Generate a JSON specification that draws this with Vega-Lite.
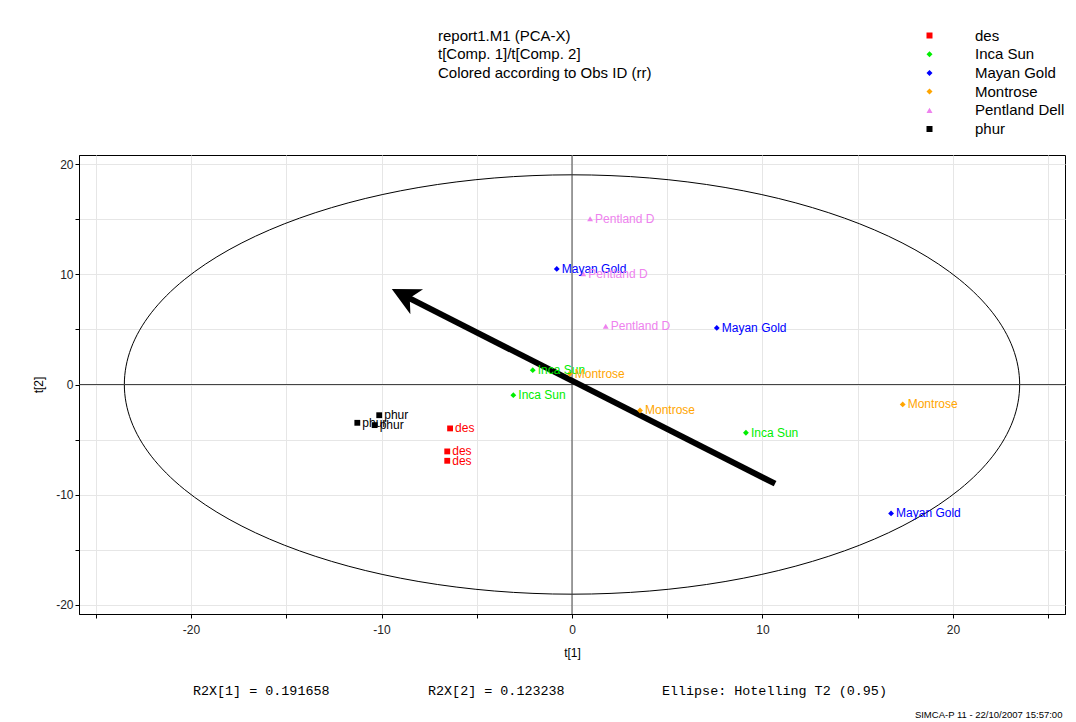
{
  "$schema": "https://vega.github.io/schema/vega-lite/v6.json",
  "width": 986,
  "height": 459,
  "autosize": "none",
  "padding": {"left": 79, "top": 155, "right": 11, "bottom": 108},
  "background": "white",
  "title": {
    "text": ["report1.M1 (PCA-X)", "t[Comp. 1]/t[Comp. 2]", "Colored according to Obs ID (rr)"],
    "anchor": "start",
    "frame": "group",
    "dx": 359,
    "offset": -52.5,
    "font": "Liberation Sans",
    "fontSize": 15,
    "fontWeight": "normal",
    "color": "black",
    "lineHeight": 18.5
  },
  "config": {
    "font": "Liberation Sans",
    "view": {"stroke": "black", "strokeWidth": 1},
    "axis": {
      "grid": true,
      "gridColor": "#e6e6e6",
      "gridWidth": 1,
      "domainColor": "black",
      "tickColor": "black",
      "tickSize": 4,
      "labelFont": "Liberation Sans",
      "labelFontSize": 12,
      "labelColor": "#222222",
      "titleFont": "Liberation Sans",
      "titleFontSize": 12,
      "titleFontWeight": "normal",
      "titleColor": "black",
      "labelFlush": false
    },
    "legend": {
      "orient": "none",
      "legendX": 843,
      "legendY": -127,
      "title": null,
      "labelFont": "Liberation Sans",
      "labelFontSize": 15,
      "labelColor": "black",
      "labelOffset": 38,
      "rowPadding": 2.7,
      "symbolSize": 36,
      "symbolStrokeWidth": 0,
      "padding": 0
    }
  },
  "datasets": {
    "scores": [
      {"obs": "des", "label": "des", "t1": -6.40, "t2": -3.99},
      {"obs": "des", "label": "des", "t1": -6.55, "t2": -6.08},
      {"obs": "des", "label": "des", "t1": -6.55, "t2": -6.93},
      {"obs": "Inca Sun", "label": "Inca Sun", "t1": -2.06, "t2": 1.30},
      {"obs": "Inca Sun", "label": "Inca Sun", "t1": -3.08, "t2": -0.97},
      {"obs": "Inca Sun", "label": "Inca Sun", "t1": 9.13, "t2": -4.38},
      {"obs": "Mayan Gold", "label": "Mayan Gold", "t1": -0.80, "t2": 10.50},
      {"obs": "Mayan Gold", "label": "Mayan Gold", "t1": 7.60, "t2": 5.14},
      {"obs": "Mayan Gold", "label": "Mayan Gold", "t1": 16.75, "t2": -11.71},
      {"obs": "Montrose", "label": "Montrose", "t1": -0.12, "t2": 0.97},
      {"obs": "Montrose", "label": "Montrose", "t1": 3.57, "t2": -2.36},
      {"obs": "Montrose", "label": "Montrose", "t1": 17.36, "t2": -1.81},
      {"obs": "Pentland Dell", "label": "Pentland D", "t1": 0.95, "t2": 15.06},
      {"obs": "Pentland Dell", "label": "Pentland D", "t1": 0.59, "t2": 10.07},
      {"obs": "Pentland Dell", "label": "Pentland D", "t1": 1.77, "t2": 5.29},
      {"obs": "phur", "label": "phur", "t1": -10.12, "t2": -2.79},
      {"obs": "phur", "label": "phur", "t1": -11.27, "t2": -3.48},
      {"obs": "phur", "label": "phur", "t1": -10.36, "t2": -3.69}
    ],
    "ellipse": [
      {"i": 0, "t1": 23.5, "t2": 0},
      {"i": 1, "t1": 23.143, "t2": 3.308},
      {"i": 2, "t1": 22.083, "t2": 6.516},
      {"i": 3, "t1": 20.352, "t2": 9.525},
      {"i": 4, "t1": 18.002, "t2": 12.245},
      {"i": 5, "t1": 15.106, "t2": 14.593},
      {"i": 6, "t1": 11.75, "t2": 16.498},
      {"i": 7, "t1": 8.037, "t2": 17.901},
      {"i": 8, "t1": 4.081, "t2": 18.761},
      {"i": 9, "t1": 0, "t2": 19.05},
      {"i": 10, "t1": -4.081, "t2": 18.761},
      {"i": 11, "t1": -8.037, "t2": 17.901},
      {"i": 12, "t1": -11.75, "t2": 16.498},
      {"i": 13, "t1": -15.106, "t2": 14.593},
      {"i": 14, "t1": -18.002, "t2": 12.245},
      {"i": 15, "t1": -20.352, "t2": 9.525},
      {"i": 16, "t1": -22.083, "t2": 6.516},
      {"i": 17, "t1": -23.143, "t2": 3.308},
      {"i": 18, "t1": -23.5, "t2": 0},
      {"i": 19, "t1": -23.143, "t2": -3.308},
      {"i": 20, "t1": -22.083, "t2": -6.516},
      {"i": 21, "t1": -20.352, "t2": -9.525},
      {"i": 22, "t1": -18.002, "t2": -12.245},
      {"i": 23, "t1": -15.106, "t2": -14.593},
      {"i": 24, "t1": -11.75, "t2": -16.498},
      {"i": 25, "t1": -8.037, "t2": -17.901},
      {"i": 26, "t1": -4.081, "t2": -18.761},
      {"i": 27, "t1": 0, "t2": -19.05},
      {"i": 28, "t1": 4.081, "t2": -18.761},
      {"i": 29, "t1": 8.037, "t2": -17.901},
      {"i": 30, "t1": 11.75, "t2": -16.498},
      {"i": 31, "t1": 15.106, "t2": -14.593},
      {"i": 32, "t1": 18.002, "t2": -12.245},
      {"i": 33, "t1": 20.352, "t2": -9.525},
      {"i": 34, "t1": 22.083, "t2": -6.516},
      {"i": 35, "t1": 23.143, "t2": -3.308}
    ]
  },
  "layer": [
    {
      "data": {"name": "ellipse"},
      "mark": {"type": "line", "interpolate": "cardinal-closed", "color": "black", "strokeWidth": 1},
      "encoding": {
        "x": {
          "field": "t1",
          "type": "quantitative",
          "scale": {"domain": [-25.88, 25.88], "nice": false, "zero": false},
          "axis": {
            "title": "t[1]",
            "values": [-25, -20, -15, -10, -5, 0, 5, 10, 15, 20, 25],
            "labelExpr": "datum.value % 10 === 0 ? '' + datum.value : ''",
            "labelPadding": 6,
            "titlePadding": 12
          }
        },
        "y": {
          "field": "t2",
          "type": "quantitative",
          "scale": {"domain": [-20.85, 20.85], "nice": false, "zero": false},
          "axis": {
            "title": "t[2]",
            "values": [-20, -15, -10, -5, 0, 5, 10, 15, 20],
            "labelExpr": "datum.value % 10 === 0 ? '' + datum.value : ''",
            "labelPadding": 2,
            "titlePadding": 10
          }
        },
        "order": {"field": "i"}
      }
    },
    {
      "data": {"values": [{}]},
      "mark": {"type": "rule", "color": "#444444", "strokeWidth": 1},
      "encoding": {"x": {"datum": 0}}
    },
    {
      "data": {"values": [{}]},
      "mark": {"type": "rule", "color": "#444444", "strokeWidth": 1},
      "encoding": {"y": {"datum": 0}}
    },
    {
      "data": {"values": [{}]},
      "mark": {"type": "rule", "color": "black", "strokeWidth": 6, "strokeCap": "butt"},
      "encoding": {
        "x": {"datum": 10.66},
        "y": {"datum": -9.01},
        "x2": {"datum": -8.7},
        "y2": {"datum": 7.98}
      }
    },
    {
      "data": {"values": [{}]},
      "mark": {
        "type": "point",
        "shape": "M0,0L-1,-0.5L-0.72,0L-1,0.5Z",
        "size": 3136,
        "angle": 207,
        "filled": true,
        "color": "black",
        "opacity": 1,
        "strokeWidth": 0
      },
      "encoding": {"x": {"datum": -9.46}, "y": {"datum": 8.68}}
    },
    {
      "data": {"name": "scores"},
      "mark": {"type": "point", "filled": true, "opacity": 1, "strokeWidth": 0, "size": 34},
      "encoding": {
        "x": {"field": "t1", "type": "quantitative"},
        "y": {"field": "t2", "type": "quantitative"},
        "color": {
          "field": "obs",
          "type": "nominal",
          "scale": {
            "domain": ["des", "Inca Sun", "Mayan Gold", "Montrose", "Pentland Dell", "phur"],
            "range": ["#ff0000", "#00ee00", "#0000ff", "#ffa500", "#ee82ee", "#000000"]
          }
        },
        "shape": {
          "field": "obs",
          "type": "nominal",
          "scale": {
            "domain": ["des", "Inca Sun", "Mayan Gold", "Montrose", "Pentland Dell", "phur"],
            "range": ["square", "diamond", "diamond", "diamond", "triangle-up", "square"]
          }
        }
      }
    },
    {
      "data": {"name": "scores"},
      "mark": {"type": "text", "align": "left", "baseline": "middle", "dx": 5, "fontSize": 12, "font": "Liberation Sans"},
      "encoding": {
        "x": {"field": "t1", "type": "quantitative"},
        "y": {"field": "t2", "type": "quantitative"},
        "text": {"field": "label"},
        "color": {"field": "obs", "type": "nominal"}
      }
    },
    {
      "data": {"values": [{}]},
      "mark": {"type": "text", "text": "R2X[1] = 0.191658", "align": "left", "baseline": "middle", "font": "Liberation Mono", "fontSize": 13.4, "color": "black"},
      "encoding": {"x": {"datum": -19.9}, "y": {"datum": -27.86}}
    },
    {
      "data": {"values": [{}]},
      "mark": {"type": "text", "text": "R2X[2] = 0.123238", "align": "left", "baseline": "middle", "font": "Liberation Mono", "fontSize": 13.4, "color": "black"},
      "encoding": {"x": {"datum": -7.56}, "y": {"datum": -27.86}}
    },
    {
      "data": {"values": [{}]},
      "mark": {"type": "text", "text": "Ellipse: Hotelling T2 (0.95)", "align": "left", "baseline": "middle", "font": "Liberation Mono", "fontSize": 13.4, "color": "black"},
      "encoding": {"x": {"datum": 4.72}, "y": {"datum": -27.86}}
    },
    {
      "data": {"values": [{}]},
      "mark": {"type": "text", "text": "SIMCA-P 11 - 22/10/2007 15:57:00", "align": "left", "baseline": "middle", "font": "Liberation Sans", "fontSize": 9.5, "color": "black"},
      "encoding": {"x": {"datum": 18.0}, "y": {"datum": -30.04}}
    }
  ]
}
